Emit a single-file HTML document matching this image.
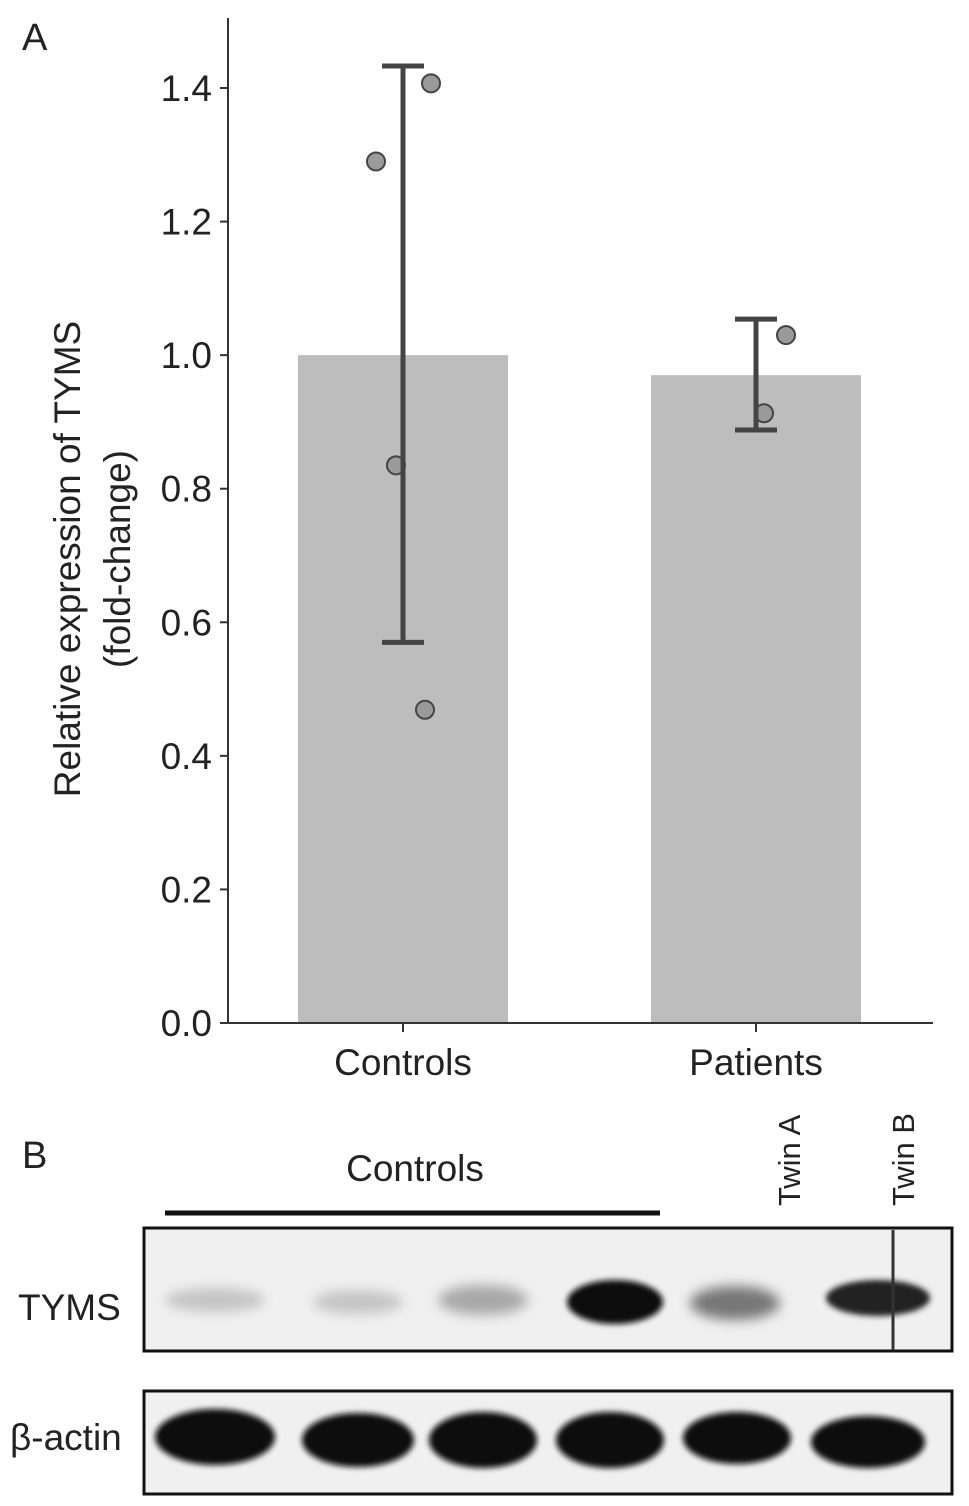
<!DOCTYPE html>
<html><head><meta charset="utf-8"><style>
body{margin:0;background:#fff;}
svg text{font-family:"Liberation Sans",sans-serif;fill:#222;}
</style></head><body>
<svg width="969" height="1501" viewBox="0 0 969 1501" xmlns="http://www.w3.org/2000/svg">
<defs>
<filter id="bl" x="-30%" y="-50%" width="160%" height="200%"><feGaussianBlur stdDeviation="6"/></filter>
<filter id="bl2" x="-30%" y="-50%" width="160%" height="200%"><feGaussianBlur stdDeviation="3"/></filter>
</defs>
<text x="22" y="50" font-size="38">A</text>
<g id="chart"></g>
<text x="22" y="1168" font-size="38">B</text>
<text x="415" y="1181" font-size="37" text-anchor="middle">Controls</text>
<line x1="165" y1="1213" x2="660" y2="1213" stroke="#111" stroke-width="5"/>
<text transform="translate(800,1206) rotate(-90)" font-size="31">Twin A</text>
<text transform="translate(914,1206) rotate(-90)" font-size="31">Twin B</text>
<text x="18" y="1320" font-size="37">TYMS</text>
<text x="10" y="1450" font-size="37">β-actin</text>
<g>
<rect x="144" y="1228" width="808" height="123" fill="#f0f0f0" stroke="#111" stroke-width="3"/>
<g filter="url(#bl)">
<ellipse cx="215" cy="1300" rx="50" ry="12" fill="#c4c4c4"/>
<ellipse cx="358" cy="1302" rx="45" ry="12" fill="#c4c4c4"/>
<ellipse cx="483" cy="1300" rx="45" ry="15" fill="#a8a8a8"/>
<ellipse cx="735" cy="1303" rx="45" ry="17" fill="#777"/>
</g>
<g filter="url(#bl2)">
<ellipse cx="615" cy="1302" rx="48" ry="22" fill="#111"/>
<ellipse cx="878" cy="1298" rx="52" ry="18" fill="#222"/>
</g>
<line x1="893" y1="1230" x2="893" y2="1350" stroke="#333" stroke-width="3"/>
</g>
<g>
<rect x="144" y="1391" width="808" height="103" fill="#f0f0f0" stroke="#111" stroke-width="3"/>
<g filter="url(#bl2)" fill="#0a0a0a">
<ellipse cx="215" cy="1437" rx="60" ry="28"/>
<ellipse cx="358" cy="1440" rx="56" ry="27"/>
<ellipse cx="483" cy="1440" rx="54" ry="28"/>
<ellipse cx="610" cy="1440" rx="54" ry="28"/>
<ellipse cx="737" cy="1438" rx="54" ry="26"/>
<ellipse cx="868" cy="1442" rx="57" ry="26"/>
</g>
</g>
</svg>
<script>
const categories=["Controls","Patients"];
const means=[1.0,0.97];
const errLow=[0.57,0.888];
const errHigh=[1.433,1.054];
const ctrlPoints=[1.29,1.407,0.835,0.469];
const ctrlOffsets=[-27,28,-7,22];
const patPoints=[1.03,0.913];
const patOffsets=[30,8];
const yTicks=[0,0.2,0.4,0.6,0.8,1.0,1.2,1.4];
const NS="http://www.w3.org/2000/svg";
const g=document.getElementById('chart');
const x0=228,x1=933,yBase=1023,yTop=88;
const y=v=>yBase-(yBase-yTop)*v/1.4;
const xc=i=>403+i*353;
function mk(t,a,parent){const e=document.createElementNS(NS,t);for(const k in a)e.setAttribute(k,a[k]);(parent||g).appendChild(e);return e;}
means.forEach((m,i)=>{
 const r=mk('rect',{x:xc(i)-105,y:y(m),width:210,height:yBase-y(m),fill:'#bdbdbd'});
 
 
});
const ax=mk('path',{d:`M${x0},18 V${yBase} H${x1}`,stroke:'#333','stroke-width':2,fill:'none'});


yTicks.forEach(t=>{
 mk('line',{x1:x0-8,x2:x0,y1:y(t),y2:y(t),stroke:'#333','stroke-width':2});
 const tx=mk('text',{x:x0-16,y:y(t)+13,'font-size':37,'text-anchor':'end'});
 tx.textContent=t.toFixed(1);
 
 
});
categories.forEach((c,i)=>{
 mk('line',{x1:xc(i),x2:xc(i),y1:yBase,y2:yBase+9,stroke:'#333','stroke-width':2});
 const tx=mk('text',{x:xc(i),y:1075,'font-size':37,'text-anchor':'middle'});
 tx.textContent=c;
 
 
});
const yt=mk('text',{transform:'translate(80,559) rotate(-90)','font-size':37,'text-anchor':'middle'});


mk('tspan',{x:0,dy:0},yt).textContent='Relative expression of TYMS';
mk('tspan',{x:0,dy:50},yt).textContent='(fold-change)';
function pts(vals,offs,i){vals.forEach((v,k)=>{
 const c=mk('circle',{cx:xc(i)+offs[k],cy:y(v),r:9,fill:'#9a9a9a',stroke:'#444','stroke-width':2});
 
 
});}
pts(ctrlPoints,ctrlOffsets,0);
pts(patPoints,patOffsets,1);
means.forEach((m,i)=>{
 const e=mk('path',{d:`M${xc(i)},${y(errLow[i])} V${y(errHigh[i])} M${xc(i)-21},${y(errHigh[i])} h42 M${xc(i)-21},${y(errLow[i])} h42`,stroke:'#444','stroke-width':5,fill:'none'});
 
 
});
</script>
</body></html>
